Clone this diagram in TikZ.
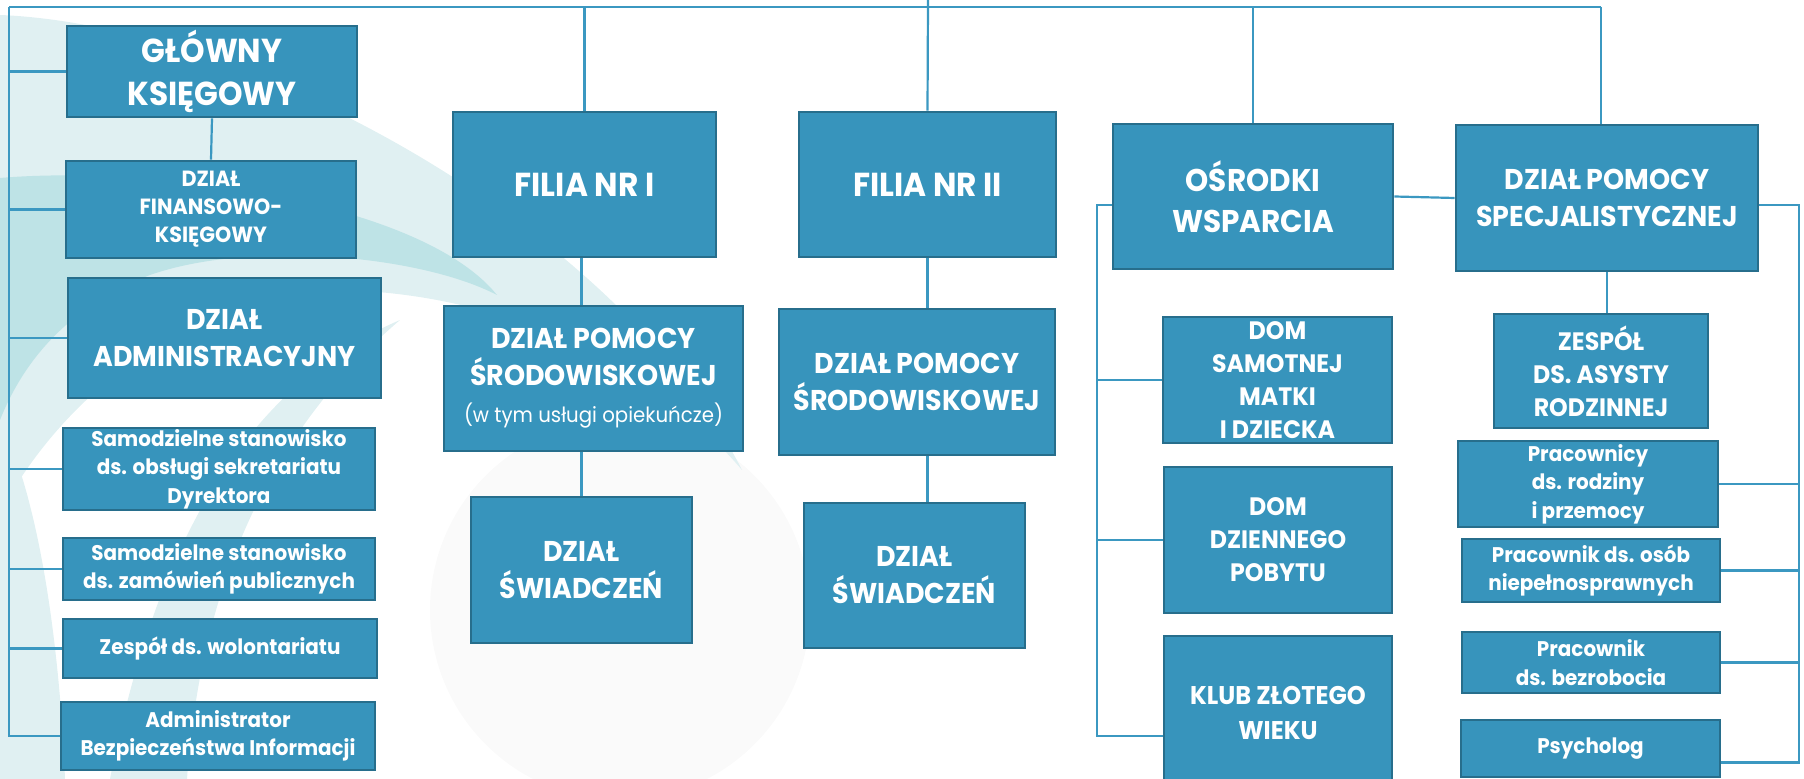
\documentclass[tikz,border=0pt]{standalone}
\usepackage{fontspec}
\setmainfont{Poppins}[FakeStretch=0.94]
\definecolor{boxfill}{HTML}{3794BC}
\definecolor{boxline}{HTML}{276E8C}
\definecolor{conncol}{HTML}{3B98C1}
\definecolor{bglight}{HTML}{E0F0F2}
\definecolor{bgmid}{HTML}{BEE3E6}
\definecolor{bggrey}{HTML}{FAFAFA}
\begin{document}
\begin{tikzpicture}[x=0.5pt,y=-0.5pt,
  box/.style={draw=boxline, fill=boxfill, line width=1.4pt, text=white, align=center, inner sep=0pt},
  link/.style={draw=conncol, line width=1.1pt},
  fXL/.style={font=\bfseries\fontsize{16.6}{21.5}\selectfont},
  fL/.style={font=\bfseries\fontsize{14.3}{18.5}\selectfont},
  fM/.style={font=\bfseries\fontsize{12.6}{16.5}\selectfont},
  fS/.style={font=\bfseries\fontsize{10.6}{14.2}\selectfont},
  fXS/.style={font=\bfseries\fontsize{11}{14}\selectfont}]
\useasboundingbox (0,0) rectangle (1804,779);
\clip (0,0) rectangle (1804,779);
% background swooshes
\fill[bggrey] (620,610) circle[radius=190];
\fill[bglight] (0,15) .. controls (250,25) and (620,230) .. (742,470)
  .. controls (640,350) and (480,290) .. (330,290)
  .. controls (180,300) and (60,400) .. (0,513) -- cycle;
\fill[bgmid] (0,178) .. controls (150,165) and (420,200) .. (497,295)
  .. controls (420,255) and (250,240) .. (150,275)
  .. controls (60,310) and (20,370) .. (0,420) -- cycle;
\fill[bglight] (400,320) .. controls (260,380) and (160,520) .. (110,779)
  -- (187,779) .. controls (200,600) and (260,440) .. (400,320) -- cycle;
\fill[bglight] (0,420) .. controls (40,500) and (60,650) .. (65,779) -- (0,779) -- cycle;
% boxes
\node[box, fXL, minimum width=145pt, minimum height=45.5pt] (GK) at (212,71.5) {GŁÓWNY\\KSIĘGOWY};
\node[box, fXS, minimum width=145pt, minimum height=48.5pt] (DF) at (211,209.5) {DZIAŁ\\FINANSOWO-\\KSIĘGOWY};
\node[box, fL, minimum width=156.5pt, minimum height=60pt] (DA) at (224.5,338) {DZIAŁ\\ADMINISTRACYJNY};
\node[box, fS, minimum width=156pt, minimum height=41pt] (S1) at (219,469) {Samodzielne stanowisko\\ds. obsługi sekretariatu\\Dyrektora};
\node[box, fS, minimum width=156pt, minimum height=31pt] (S2) at (219,569) {Samodzielne stanowisko\\ds. zamówień publicznych};
\node[box, fS, minimum width=157pt, minimum height=29.5pt] (ZW) at (220,648.5) {Zespół ds. wolontariatu};
\node[box, fS, minimum width=157pt, minimum height=34pt] (AB) at (218,736) {Administrator\\Bezpieczeństwa Informacji};
\node[box, fXL, minimum width=131.5pt, minimum height=72.5pt] (F1) at (584.5,184.5) {FILIA NR I};
\node[box, fL, minimum width=149.5pt, minimum height=72.5pt] (DP1) at (593.5,378.5) {DZIAŁ POMOCY\\ŚRODOWISKOWEJ\\{\mdseries\fontsize{10.5}{18}\selectfont (w tym usługi opiekuńcze)}};
\node[box, fL, minimum width=110.5pt, minimum height=73pt] (DS1) at (581.5,570) {DZIAŁ\\ŚWIADCZEŃ};
\node[box, fXL, minimum width=128.5pt, minimum height=72.5pt] (F2) at (927.5,184.5) {FILIA NR II};
\node[box, fL, minimum width=138pt, minimum height=73pt] (DP2) at (917,382) {DZIAŁ POMOCY\\ŚRODOWISKOWEJ};
\node[box, fL, minimum width=110.5pt, minimum height=72.5pt] (DS2) at (914.5,575.5) {DZIAŁ\\ŚWIADCZEŃ};
\node[box, font=\bfseries\fontsize{15.7}{20.5}\selectfont, minimum width=140pt, minimum height=72.5pt] (OW) at (1253,196.5) {OŚRODKI\\WSPARCIA};
\node[box, fL, minimum width=151pt, minimum height=73pt] (DPS) at (1607,198) {DZIAŁ POMOCY\\SPECJALISTYCZNEJ};
\node[box, fM, minimum width=114.5pt, minimum height=63pt] (DSM) at (1277.5,380) {DOM\\SAMOTNEJ\\MATKI\\I DZIECKA};
\node[box, fM, minimum width=114pt, minimum height=73pt] (DDP) at (1278,540) {DOM\\DZIENNEGO\\POBYTU};
\node[box, font=\bfseries\fontsize{12.8}{17.5}\selectfont, minimum width=114pt, minimum height=77pt] (KZW) at (1278,713) {KLUB ZŁOTEGO\\WIEKU};
\node[box, fM, minimum width=107pt, minimum height=57pt] (ZES) at (1601,371) {ZESPÓŁ\\DS. ASYSTY\\RODZINNEJ};
\node[box, fS, minimum width=130pt, minimum height=43pt] (PR) at (1588,484) {Pracownicy\\ds. rodziny\\i przemocy};
\node[box, fS, minimum width=129pt, minimum height=31.5pt] (PO) at (1591,570.5) {Pracownik ds. osób\\niepełnosprawnych};
\node[box, fS, minimum width=129pt, minimum height=30.5pt] (PB) at (1591,662.5) {Pracownik\\ds. bezrobocia};
\node[box, fS, minimum width=129.5pt, minimum height=28.5pt] (PS) at (1590.5,748.5) {Psycholog};
% connector anchors
\coordinate (TL) at (9,7);
\coordinate (TR) at (1601,7);
\coordinate (ROOT) at (928,0);
\coordinate (OL) at (1097,205);
\coordinate (RR) at (1799,205);
% connectors
\path[link] (TL) -- (TR);
\path[link] (ROOT) -- (F2.north);
\path[link] (TL) |- (AB.west);
\foreach \n in {GK,DF,DA,S1,S2,ZW} \path[link] (\n.west) -- (\n.west -| TL);
\path[link] (F1.north) -- (F1.north |- TL);
\path[link] (OW.north) -- (OW.north |- TL);
\path[link] (TR) -- (TR |- DPS.north);
\path[link] (GK.south) -- (DF.north);
\path[link] (F1.south -| DS1) -- (DP1.north -| DS1);
\path[link] (DP1.south -| DS1) -- (DS1.north);
\path[link] (F2.south) -- (DP2.north -| F2);
\path[link] (DP2.south -| F2) -- (DS2.north -| F2);
\path[link] (OW.east) -- (DPS.west);
\path[link] (OW.west |- OL) -- (OL) -- ([yshift=-11.5pt]KZW.west -| OL) -- ([yshift=-11.5pt]KZW.west);
\path[link] (DSM.west) -- (DSM.west -| OL);
\path[link] (DDP.west) -- (DDP.west -| OL);
\path[link] (DPS.east |- RR) -- (RR) -- ([yshift=-7pt]PS.east -| RR) -- ([yshift=-7pt]PS.east);
\foreach \n in {PR,PO,PB} \path[link] (\n.east) -- (\n.east -| RR);
\path[link] (DPS.south) -- (DPS.south |- ZES.north);
\end{tikzpicture}
\end{document}
